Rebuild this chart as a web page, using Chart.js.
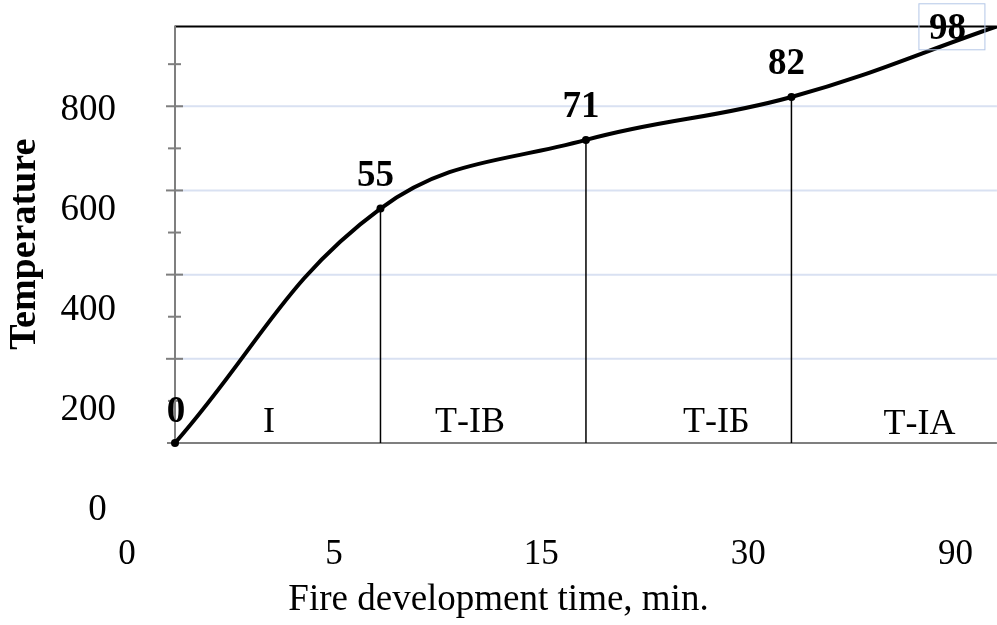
<!DOCTYPE html>
<html>
<head>
<meta charset="utf-8">
<script src="https://cdn.jsdelivr.net/npm/chart.js@4.4.1/dist/chart.umd.min.js"></script>
<style>
  html, body { margin: 0; padding: 0; background: #ffffff; }
  #wrap { width: 997px; height: 625px; }
</style>
</head>
<body>
<div id="wrap"><canvas id="c" width="997" height="625"></canvas></div>
<script>
// ---- data ----
const stageIndex   = [0, 1, 2, 3, 4];
const timeLabels   = ['0', '5', '15', '30', '90'];
const temperature  = [0, 557, 720, 822, 990];
const pointLabels  = ['0', '55', '71', '82', '98'];
const zoneLabels   = ['І', 'Т-ІВ', 'Т-ІБ', 'Т-ІА'];
const yTickValues  = [0, 200, 400, 600, 800];
const gridValues   = [200, 400, 600, 800];
const minorValues  = [100, 300, 500, 700, 900];

const FONT = '"Liberation Serif", "Times New Roman", serif';

const curvePoints = stageIndex.map((s, i) => ({ x: s, y: temperature[i] }));
const dropPoints = [];
stageIndex.slice(1, -1).forEach((s, k) => {
  const i = k + 1;
  dropPoints.push({ x: s, y: 0 }, { x: s, y: temperature[i] }, { x: s, y: null });
});

const framePlugin = {
  id: 'frame',
  beforeDatasetsDraw(chart) {
    const { ctx, chartArea, scales: { x, y } } = chart;
    const x0 = x.getPixelForValue(stageIndex[0]);
    const x1 = chartArea.right;
    const y0 = y.getPixelForValue(0);
    const yTop = chartArea.top;
    const seg = (a, b, c, d) => { ctx.beginPath(); ctx.moveTo(a, b); ctx.lineTo(c, d); ctx.stroke(); };
    ctx.save();
    ctx.lineWidth = 2;
    ctx.strokeStyle = '#d9e1f2';
    gridValues.forEach(v => { const py = y.getPixelForValue(v); seg(x0, py, x1, py); });
    ctx.strokeStyle = '#000000';
    seg(x0, yTop + 0.5, x1, yTop + 0.5);
    ctx.strokeStyle = '#7f7f7f';
    seg(x0, y0, x0, yTop - 0.5);
    gridValues.forEach(v => { const py = y.getPixelForValue(v); seg(x0 - 9, py, x0 + 8, py); });
    minorValues.forEach(v => { const py = y.getPixelForValue(v); seg(x0 - 7, py, x0 + 6, py); });
    seg(x0 - 8, y0, x1, y0);
    ctx.restore();
  },
  afterDatasetsDraw(chart) {
    const { ctx, scales: { x, y } } = chart;
    const meta = chart.getDatasetMeta(1);
    ctx.save();
    ctx.fillStyle = '#000000';
    ctx.textAlign = 'center';
    ctx.textBaseline = 'alphabetic';
    // zone labels
    ctx.font = '36px ' + FONT;
    const zoneX = [0.457, 1.436, 2.635, 3.623];
    const zoneDy = [11, 11, 11, 9];
    zoneLabels.forEach((t, i) => {
      ctx.fillText(t, x.getPixelForValue(zoneX[i]), y.getPixelForValue(0) - zoneDy[i]);
    });
    // point labels
    ctx.font = 'bold 37px ' + FONT;
    const last = pointLabels.length - 1;
    pointLabels.forEach((t, i) => {
      const p = meta.data[i];
      if (i < last) {
        const dx = i === 0 ? 1 : -5;
        const dy = i === 0 ? -21 : -23;
        ctx.fillText(t, p.x + dx, p.y + dy);
      } else {
        const tx = p.x - 49.5, ty = p.y + 13;
        ctx.fillText(t, tx, ty);
        ctx.strokeStyle = '#b4c7e7';
        ctx.lineWidth = 1;
        ctx.strokeRect(tx - 28.5, ty - 35.5, 66, 46);
      }
    });
    ctx.restore();
  }
};

new Chart(document.getElementById('c'), {
  type: 'line',
  data: {
    datasets: [
      {
        label: 'drop',
        data: dropPoints,
        borderColor: '#000000',
        borderWidth: 1.5,
        pointRadius: 0,
        tension: 0,
        spanGaps: false,
        xAxisID: 'x',
        yAxisID: 'y'
      },
      {
        label: 'Temperature',
        data: curvePoints,
        borderColor: '#000000',
        backgroundColor: '#000000',
        borderWidth: 4,
        pointRadius: [4, 4, 4, 4, 0],
        pointBorderWidth: 0,
        pointBackgroundColor: '#000000',
        tension: 0.4,
        xAxisID: 'x',
        yAxisID: 'y'
      }
    ]
  },
  options: {
    responsive: false,
    animation: false,
    devicePixelRatio: 1,
    layout: { padding: { top: 26, left: 0, right: 0, bottom: 0 }, autoPadding: false },
    plugins: {
      legend: { display: false },
      tooltip: { enabled: false },
      title: {
        display: true,
        position: 'bottom',
        text: 'Fire development time, min.',
        color: '#000000',
        font: { family: FONT, size: 37, weight: 'normal', lineHeight: 1.2 },
        padding: { top: 0, bottom: 3 }
      }
    },
    scales: {
      x: {
        type: 'linear', display: false,
        min: -0.2336, max: 4
      },
      y: {
        type: 'linear', display: false,
        min: -159.2, max: 990.7
      },
      xl: {
        type: 'linear', position: 'bottom',
        min: 0, max: 4.2,
        grid: { display: false, drawTicks: false },
        border: { display: false },
        afterBuildTicks: s => { s.ticks = stageIndex.map(v => ({ value: v })); },
        ticks: {
          autoSkip: false, maxRotation: 0,
          padding: 24, color: '#000000',
          font: { family: FONT, size: 35, lineHeight: 1.2 },
          callback: (v, i) => timeLabels[i]
        },
        afterFit: s => { s.height = 115 - (37 * 1.2 + 3); }
      },
      yl: {
        type: 'linear', position: 'left',
        min: 0, max: 969.5,
        grid: { display: false, drawTicks: false },
        border: { display: false },
        title: {
          display: true,
          text: '     Temperature',
          color: '#000000',
          font: { family: FONT, size: 38, weight: 'bold', lineHeight: 1.2 },
          padding: { top: 2, bottom: 0 }
        },
        afterBuildTicks: s => { s.ticks = yTickValues.map(v => ({ value: v })); },
        ticks: {
          autoSkip: false,
          padding: 11, color: '#000000',
          font: { family: FONT, size: 37, lineHeight: 0.8 },
          callback: (v, i) => (yTickValues[i] === 0 ? '0 ' : String(yTickValues[i]))
        },
        afterFit: s => { s.width = 127; }
      }
    }
  },
  plugins: [framePlugin]
});
</script>
</body>
</html>
